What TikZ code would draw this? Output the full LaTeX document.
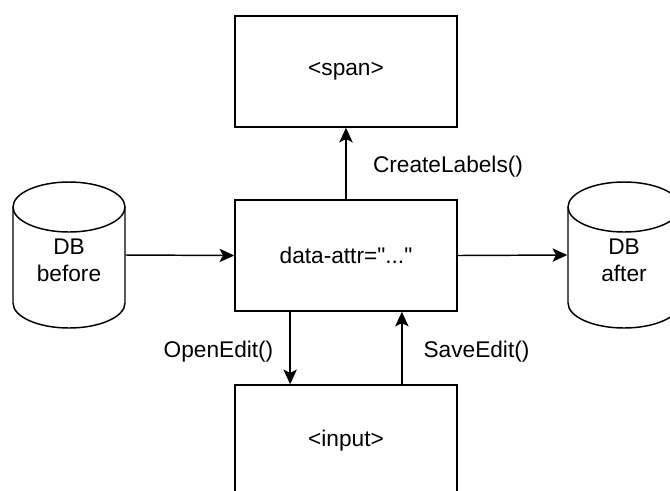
\documentclass[tikz,border=0pt]{standalone}
\usepackage{fontspec}
\setmainfont{Liberation Sans}[Ligatures=TeXOff]
\usetikzlibrary{arrows.meta,calc}
\begin{document}
\begin{tikzpicture}[x=0.75pt,y=0.75pt,
  line width=1.1pt,
  every node/.style={font=\fontsize{17}{20.5}\selectfont},
  box/.style={draw,rectangle,minimum width=166.5pt,minimum height=83.25pt,inner sep=0pt},
  ghost/.style={rectangle,minimum width=84pt,minimum height=109.5pt,inner sep=0pt},
  lbl/.style={inner sep=0pt,align=center},
  arr/.style={-{Stealth[length=11pt,width=10pt,inset=2.5pt]}}]
\useasboundingbox (0,0) rectangle (670,-490);
% boxes
\node[box] (span) at (346,-71.5) {<span>};
\node[box] (mid) at (346,-255.5) {data-attr="..."};
\node[box] (inp) at (346,-440.5) {<input>};
% DB before cylinder
\draw (13,-207) -- (13,-303) arc[start angle=180,end angle=360,x radius=42pt,y radius=18.75pt] -- (125,-207);
\draw (69,-207) ellipse[x radius=42pt,y radius=18.75pt];
\node[ghost] (dbb) at (69,-255) {};
\node[lbl] (dbbt) at (69,-260) {DB\\before};
% DB after cylinder
\draw (568,-207) -- (568,-303) arc[start angle=180,end angle=360,x radius=42pt,y radius=18.75pt] -- (680,-207);
\draw (624,-207) ellipse[x radius=42pt,y radius=18.75pt];
\node[ghost] (dba) at (624,-255) {};
\node[lbl] (dbat) at (624,-260) {DB\\after};
% connectors
\draw[arr] (dbb.east) -- (mid.west);
\draw[arr] (mid.east) -- (dba.west);
\draw[arr] (mid.north) -- (span.south);
\draw[arr] ($(mid.south west)!0.25!(mid.south east)$) -- ($(inp.north west)!0.25!(inp.north east)$);
\draw[arr] ($(inp.north west)!0.75!(inp.north east)$) -- ($(mid.south west)!0.75!(mid.south east)$);
% labels
\node[lbl] (lcreate) at (448,-167) {CreateLabels()};
\node[lbl] (lopen) at (218.5,-352) {OpenEdit()};
\node[lbl] (lsave) at (476.5,-352) {SaveEdit()};
\end{tikzpicture}
\end{document}
